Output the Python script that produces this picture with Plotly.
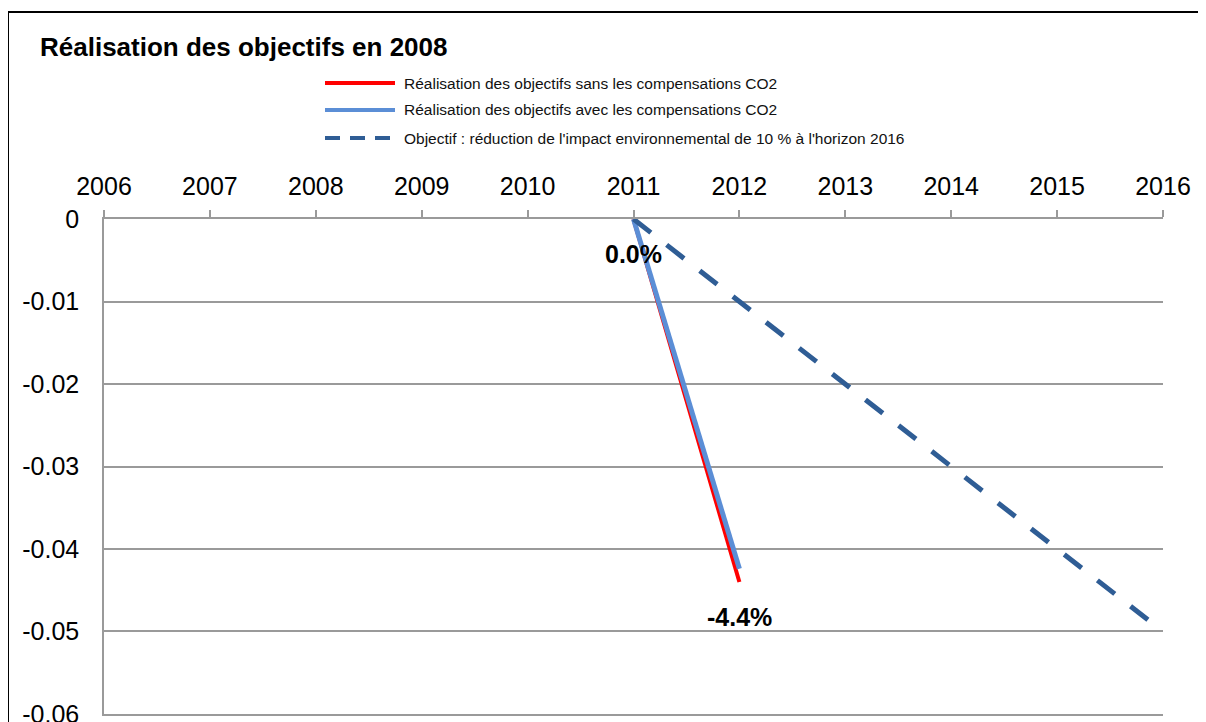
import plotly.graph_objects as go

# ---- data ----
years = [2006, 2007, 2008, 2009, 2010, 2011, 2012, 2013, 2014, 2015, 2016]
sans_x = [2011, 2012]
sans_y = [0.0, -0.044]
avec_x = [2011, 2012]
avec_y = [0.0, -0.0424]
obj_x = [2011, 2012, 2013, 2014, 2015, 2016]
obj_y = [0.0, -0.01, -0.02, -0.03, -0.04, -0.05]
y_ticks = [0, -0.01, -0.02, -0.03, -0.04, -0.05, -0.06]
y_ticktext = ["0", "-0.01", "-0.02", "-0.03", "-0.04", "-0.05", "-0.06"]
names = [
    "Réalisation des objectifs sans les compensations CO2",
    "Réalisation des objectifs avec les compensations CO2",
    "Objectif : réduction de l'impact environnemental de 10 % à l'horizon 2016",
]
title = "Réalisation des objectifs en 2008"

OFF = 8  # page body margin
W, H = 1206 - OFF, 722 - OFF
L = 104 - OFF
T = 219 - OFF
R = W - (1163 - OFF)
B = H - (714 - OFF)
PW, PH = W - L - R, H - T - B

def px(x):  # reference page pixel -> paper
    return (x - OFF - L) / PW

def py(y):
    return (H - B - (y - OFF)) / PH

FONT = "Liberation Sans, Arial, sans-serif"
RED = "#FF0000"
LBLUE = "#5B8ED6"
DBLUE = "#2F5D95"
GRID = "#9A9A9A"

fig = go.Figure()
fig.add_trace(go.Scatter(x=sans_x, y=sans_y, mode="lines", name=names[0],
                         line=dict(color=RED, width=4), showlegend=False))
fig.add_trace(go.Scatter(x=avec_x, y=avec_y, mode="lines", name=names[1],
                         line=dict(color=LBLUE, width=5), showlegend=False))
fig.add_trace(go.Scatter(x=obj_x, y=obj_y, mode="lines", name=names[2],
                         line=dict(color=DBLUE, width=5, dash="22px,20px"),
                         showlegend=False))

# data labels
for xv, yv in [(sans_x[0], sans_y[0]), (sans_x[-1], sans_y[-1])]:
    fig.add_annotation(x=xv, y=yv, text="<b>%.1f%%</b>" % (yv * 100),
                       showarrow=False, yshift=-35,
                       font=dict(family=FONT, size=25, color="black"))

# manual legend
leg_rows = [83, 110, 138]
leg_styles = [dict(color=RED, width=4), dict(color=LBLUE, width=4),
              dict(color=DBLUE, width=4, dash="15px,10px")]
for name, yy, st in zip(names, leg_rows, leg_styles):
    fig.add_shape(type="line", xref="paper", yref="paper",
                  x0=px(325), x1=px(395), y0=py(yy), y1=py(yy), line=st)
    fig.add_annotation(xref="paper", yref="paper", x=px(402), y=py(yy),
                       xanchor="left", yanchor="middle", text=name,
                       showarrow=False, font=dict(family=FONT, size=15.5, color="#111111"))

# outer border (top and left edges only; the rest is outside the picture)
fig.add_shape(type="line", xref="paper", yref="paper",
              x0=px(7), x1=px(1260), y0=py(12), y1=py(12),
              line=dict(color="black", width=2))
fig.add_shape(type="line", xref="paper", yref="paper",
              x0=px(8), x1=px(8), y0=py(12), y1=py(800),
              line=dict(color="black", width=2))

fig.update_layout(
    width=W, height=H,
    margin=dict(l=L, r=R, t=T, b=B, pad=0),
    paper_bgcolor="white", plot_bgcolor="white",
    showlegend=False,
    title=dict(text="<b>" + title + "</b>", x=(40 - OFF) / W, xanchor="left",
               y=1 - (47 - OFF) / H, yanchor="middle",
               font=dict(family=FONT, size=26, color="black")),
    font=dict(family=FONT, color="black"),
)
fig.update_xaxes(range=[2006, 2016], side="top", tickvals=years,
                 ticktext=[str(y) for y in years],
                 ticks="outside", ticklen=7, tickcolor=GRID, tickwidth=1.5,
                 showline=True, linecolor=GRID, linewidth=1.5, mirror=True,
                 showgrid=False, zeroline=False, ticklabelstandoff=5,
                 ticklabeloverflow="allow", automargin=False,
                 tickfont=dict(family=FONT, size=25, color="black"))
fig.update_yaxes(range=[-0.06001, 0.00001], tickvals=y_ticks, ticktext=y_ticktext,
                 ticks="", showline=True, linecolor=GRID, linewidth=1.5,
                 showgrid=True, gridcolor=GRID, gridwidth=1.5, zeroline=False,
                 ticklabelstandoff=18, ticklabeloverflow="allow", automargin=False,
                 tickfont=dict(family=FONT, size=25, color="black"))

fig.write_html("out.html")
